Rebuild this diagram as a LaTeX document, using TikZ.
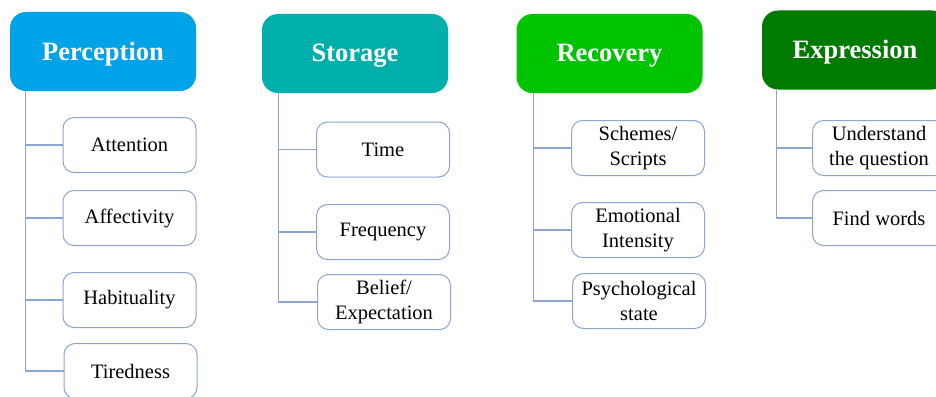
\documentclass[tikz,border=0pt]{standalone}
\usepackage{xcolor}
\usepackage{fontspec}
\setmainfont{Liberation Serif}

\definecolor{azulperc}{RGB}{0,162,232}
\definecolor{tealalm}{RGB}{0,174,172}
\definecolor{verderec}{RGB}{0,196,0}
\definecolor{verdeexp}{RGB}{0,122,0}
\definecolor{linea}{RGB}{140,165,210}

\begin{document}
\begin{tikzpicture}[x=1pt,y=-1pt,
    cabeza/.style={rounded corners=16pt, minimum width=186pt, minimum height=79pt,
        inner sep=0pt, text height=22pt, text depth=5pt, text=white,
        font=\fontsize{26.5}{30}\selectfont\bfseries},
    hoja/.style={draw=linea, line width=1pt, rounded corners=11pt, fill=white,
        minimum width=133pt, minimum height=55pt, inner sep=0pt, align=center,
        font=\fontsize{20.5}{25}\selectfont},
    rama/.style={draw=linea, line width=1.2pt}]

    % marco
    \clip (0,0) rectangle (936,396);
    \fill[white] (0,0) rectangle (936,396);

    % cabezas
    \node[cabeza, fill=azulperc] (perc) at (103,51.5) {Perception};
    \node[cabeza, fill=tealalm] (alm) at (355,53.5) {Storage};
    \node[cabeza, fill=verderec] (rec) at (609.5,53.5) {Recovery};
    \node[cabeza, fill=verdeexp] (exp) at (855,50) {Expression};

    % Perception
    \node[hoja] (aten) at (129.5,145) {Attention};
    \node[hoja] (afec) at (129.5,218) {Affectivity};
    \node[hoja] (habi) at (129.5,300) {Habituality};
    \node[hoja] (cans) at (130.5,371) {Tiredness};

    % Storage
    \node[hoja] (tiem) at (383,149.5) {Time};
    \node[hoja] (frec) at (383,232) {Frequency};
    \node[hoja] (cree) at (384,302) {Belief/\\Expectation};

    % Recovery
    \node[hoja] (esqu) at (638,148) {Schemes/\\Scripts};
    \node[hoja] (emoc) at (638,230) {Emotional\\Intensity};
    \node[hoja] (psic) at (639,301) {Psychological\\state};

    % Expression
    \node[hoja] (comp) at (879,148) {Understand\\the question};
    \node[hoja] (pala) at (879,218) {Find words};

    % ramas
    \coordinate (p0) at ([xshift=16pt]perc.south west);
    \draw[rama] (p0) |- (aten.west);
    \draw[rama] (p0) |- (afec.west);
    \draw[rama] (p0) |- (habi.west);
    \draw[rama] (p0) |- (cans.west);

    \coordinate (a0) at ([xshift=17pt]alm.south west);
    \draw[rama] (a0) |- (tiem.west);
    \draw[rama] (a0) |- (frec.west);
    \draw[rama] (a0) |- (cree.west);

    \coordinate (r0) at ([xshift=17.5pt]rec.south west);
    \draw[rama] (r0) |- (esqu.west);
    \draw[rama] (r0) |- (emoc.west);
    \draw[rama] (r0) |- (psic.west);

    \coordinate (e0) at ([xshift=15pt]exp.south west);
    \draw[rama] (e0) |- (comp.west);
    \draw[rama] (e0) |- (pala.west);

\end{tikzpicture}
\end{document}
